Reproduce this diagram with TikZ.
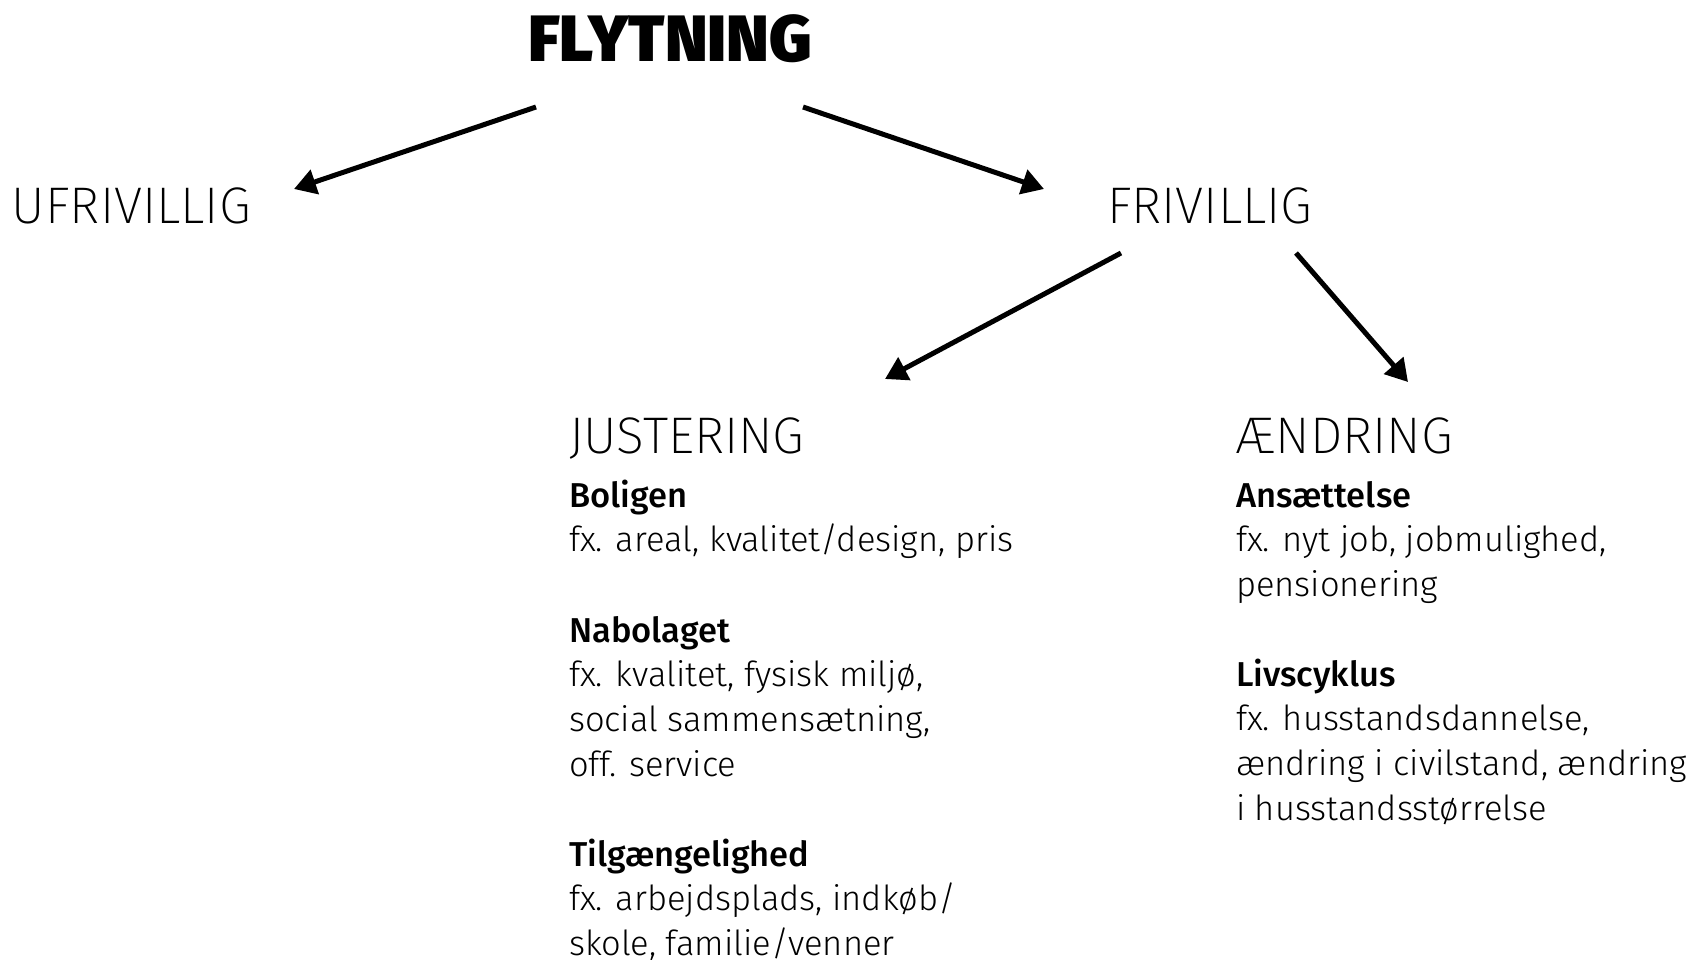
\documentclass[tikz,border=0pt]{standalone}
\usepackage{fontspec}
\setmainfont{Fira Sans Light}[BoldFont={Fira Sans Medium}]
\newfontfamily\heavyf{Fira Sans Black}
\newfontfamily\thinf{Fira Sans ExtraLight}
\usetikzlibrary{arrows.meta}
\tikzset{
  every node/.style={inner sep=0pt, outer sep=0pt},
  title/.style={anchor=base west, font=\heavyf\fontsize{65.5}{65.5}\selectfont},
  head/.style={anchor=base west, font=\thinf\fontsize{51.5}{51.5}\selectfont},
  body/.style={anchor=base west, font=\fontsize{34.5}{44.8}\selectfont},
  conn/.style={line width=5pt, -{Triangle[length=22pt,width=25pt]}}
}
\newcommand{\lines}[1]{\begin{tabular}[t]{@{}l@{}}#1\end{tabular}}
\begin{document}
\begin{tikzpicture}[x=1pt,y=-1pt]
\useasboundingbox (0,0) rectangle (1689,959);
\node[title] (flyt) at (528,61) {FLYTNING};
\node[head] (ufri) at (12,223) {UFRIVILLIG};
\node[head] (fri) at (1107,223) {FRIVILLIG};
\node[head] (just) at (569,453) {JUSTERING};
\node[head] (aend) at (1236,453) {ÆNDRING};
\node[body] (bolig) at (569,507) {\lines{\textbf{Boligen}\\fx. areal, kvalitet/design, pris}};
\node[body] (nabo) at (569,642) {\lines{\textbf{Nabolaget}\\fx. kvalitet, fysisk miljø,\\social sammensætning,\\off. service}};
\node[body] (tilg) at (569,866) {\lines{\textbf{Tilgængelighed}\\fx. arbejdsplads, indkøb/\\skole, familie/venner}};
\node[body] (ans) at (1236,507) {\lines{\textbf{Ansættelse}\\fx. nyt job, jobmulighed,\\pensionering}};
\node[body] (livs) at (1236,686) {\lines{\textbf{Livscyklus}\\fx. husstandsdannelse,\\ændring i civilstand, ændring\\i husstandsstørrelse}};
\coordinate (a1s) at (536,107);
\coordinate (a1e) at (294,189);
\coordinate (a2s) at (803,107);
\coordinate (a2e) at (1044,189);
\coordinate (a3s) at (1121,253);
\coordinate (a3e) at (885,379);
\coordinate (a4s) at (1296,253);
\coordinate (a4e) at (1408,382);
\draw[conn] (a1s) -- (a1e);
\draw[conn] (a2s) -- (a2e);
\draw[conn] (a3s) -- (a3e);
\draw[conn] (a4s) -- (a4e);
\end{tikzpicture}
\end{document}
